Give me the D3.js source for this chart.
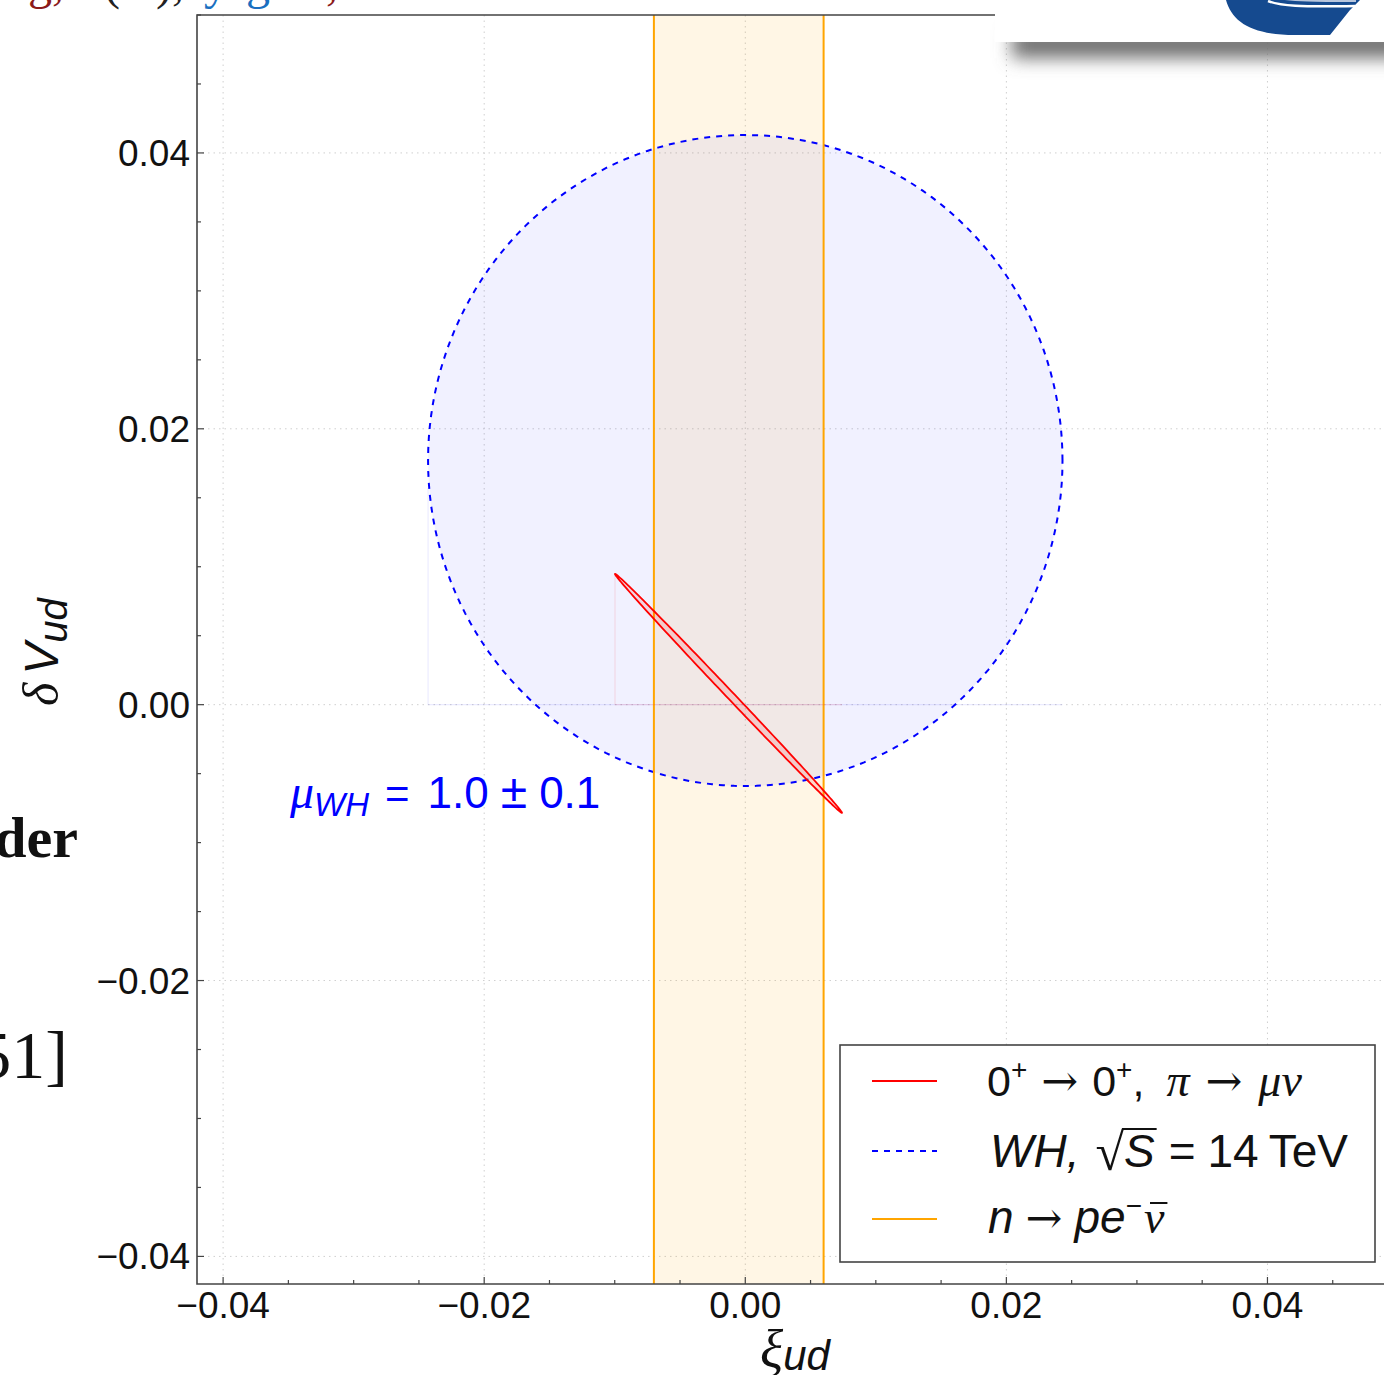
<!DOCTYPE html>
<html>
<head>
<meta charset="utf-8">
<script src="https://cdn.jsdelivr.net/npm/d3@7"></script>
<style>
  html, body { margin: 0; padding: 0; background: #fff; overflow: hidden; }
  svg { display: block; }
</style>
</head>
<body>
<svg id="chart" width="1384" height="1375"></svg>
<script>
// axis setup
const xDomain = [-0.042, 0.05];
const yDomain = [-0.042, 0.05];
const majorTicks = [-0.04, -0.02, 0.00, 0.02, 0.04];
const minorStep = 0.005;

// n -> p e nu band (xi_ud range)
const neutronBand = [-0.007, 0.006];

// WH at 14 TeV contour: center and radii
const whCenter = [0.0, 0.0177];
const whRadius = [0.0243, 0.0236];

// 0+ -> 0+, pi -> mu nu contour: endpoints of long axis, half width
const superEnds = [[-0.00998, 0.00948], [0.00741, -0.00785]];
const superHalfWidth = 0.00027;

const legendItems = ['super', 'wh', 'neutron'];
const colors = { super: '#ff0000', wh: '#0000ff', neutron: '#ffa500' };

const svg = d3.select('#chart');
const margin = { left: 197, top: 15, right: 1398, bottom: 1284 };

const x = d3.scaleLinear().domain(xDomain).range([margin.left, margin.right]);
const y = d3.scaleLinear().domain(yDomain).range([margin.bottom, margin.top]);

const sans = '"Liberation Sans", Arial, Helvetica, sans-serif';
const serif = '"Liberation Serif", "DejaVu Serif", "Times New Roman", serif';
const arrowFont = '"DejaVu Serif", serif';

// gridlines
const grid = svg.append('g');
grid.selectAll('.gx').data(majorTicks).enter().append('line')
    .attr('x1', d => x(d)).attr('x2', d => x(d))
    .attr('y1', margin.top).attr('y2', margin.bottom)
    .attr('stroke', '#cfcfcf').attr('stroke-width', 1).attr('stroke-dasharray', '1.5,4');
grid.selectAll('.gy').data(majorTicks).enter().append('line')
    .attr('x1', margin.left).attr('x2', margin.right)
    .attr('y1', d => y(d)).attr('y2', d => y(d))
    .attr('stroke', '#cfcfcf').attr('stroke-width', 1).attr('stroke-dasharray', '1.5,4');

const plot = svg.append('g');

// orange band
plot.append('rect')
    .attr('x', x(neutronBand[0])).attr('width', x(neutronBand[1]) - x(neutronBand[0]))
    .attr('y', margin.top).attr('height', margin.bottom - margin.top)
    .attr('fill', colors.neutron).attr('fill-opacity', 0.1);

// blue disk
const ellipsePts = d3.range(0, 361, 2).map(a => {
    const t = a * Math.PI / 180;
    return [whCenter[0] + whRadius[0] * Math.cos(t), whCenter[1] + whRadius[1] * Math.sin(t)];
});
const line = d3.line().x(d => x(d[0])).y(d => y(d[1]));

// faint filling artifacts
plot.append('path')
    .attr('d', `M${x(whCenter[0] - whRadius[0])},${y(whCenter[1] - 0.002)}V${y(0)}H${x(whCenter[0] + whRadius[0])}`)
    .attr('fill', 'none').attr('stroke', colors.wh).attr('stroke-opacity', 0.08).attr('stroke-width', 1.2);

plot.append('path')
    .attr('d', line(ellipsePts) + 'Z')
    .attr('fill', colors.wh).attr('fill-opacity', 0.055)
    .attr('stroke', colors.wh).attr('stroke-width', 2).attr('stroke-dasharray', '6,6');

// band edges
plot.selectAll('.edge').data(neutronBand).enter().append('line')
    .attr('x1', d => x(d)).attr('x2', d => x(d))
    .attr('y1', margin.top).attr('y2', margin.bottom)
    .attr('stroke', colors.neutron).attr('stroke-width', 2);

// red thin ellipse
const c = [(superEnds[0][0] + superEnds[1][0]) / 2, (superEnds[0][1] + superEnds[1][1]) / 2];
const u = [(superEnds[1][0] - superEnds[0][0]) / 2, (superEnds[1][1] - superEnds[0][1]) / 2];
const ulen = Math.hypot(u[0], u[1]);
const v = [-u[1] / ulen * superHalfWidth, u[0] / ulen * superHalfWidth];
const superPts = d3.range(0, 361, 2).map(a => {
    const t = a * Math.PI / 180;
    return [c[0] + u[0] * Math.cos(t) + v[0] * Math.sin(t), c[1] + u[1] * Math.cos(t) + v[1] * Math.sin(t)];
});
plot.append('path')
    .attr('d', `M${x(superEnds[0][0])},${y(superEnds[0][1])}V${y(0)}H${x(superEnds[1][0])}`)
    .attr('fill', 'none').attr('stroke', colors.super).attr('stroke-opacity', 0.1).attr('stroke-width', 1.2);
plot.append('path')
    .attr('d', line(superPts) + 'Z')
    .attr('fill', colors.super).attr('fill-opacity', 0.12)
    .attr('stroke', colors.super).attr('stroke-width', 1.8).attr('stroke-linejoin', 'round');

// frame
svg.append('path')
    .attr('d', `M${margin.right},${margin.top}H${margin.left}V${margin.bottom}H${margin.right}`)
    .attr('fill', 'none').attr('stroke', '#444').attr('stroke-width', 1.6);

// ticks (pointing inward)
const minorTicks = d3.range(-0.04, 0.0501, minorStep).map(d => +d.toFixed(3))
    .filter(d => !majorTicks.some(m => Math.abs(m - d) < 1e-9));
const ticks = svg.append('g').attr('stroke', '#444').attr('stroke-width', 1.2);
[[majorTicks, 7], [minorTicks, 4]].forEach(([vals, len]) => {
    ticks.selectAll(null).data(vals.filter(d => d >= xDomain[0] && d <= xDomain[1])).enter().append('line')
        .attr('x1', d => x(d)).attr('x2', d => x(d))
        .attr('y1', margin.bottom).attr('y2', margin.bottom - len);
    ticks.selectAll(null).data(vals.filter(d => d >= yDomain[0] && d <= yDomain[1])).enter().append('line')
        .attr('y1', d => y(d)).attr('y2', d => y(d))
        .attr('x1', margin.left).attr('x2', margin.left + len);
});

const fmt = d => (d < 0 ? '\u2212' : '') + Math.abs(d).toFixed(2);
svg.append('g').selectAll('text').data(majorTicks).enter().append('text')
    .attr('x', d => x(d)).attr('y', 1318)
    .attr('text-anchor', 'middle').attr('font-family', sans).attr('font-size', 37).attr('fill', '#111')
    .text(fmt);
svg.append('g').selectAll('text').data(majorTicks).enter().append('text')
    .attr('x', 190).attr('y', d => y(d) + 13)
    .attr('text-anchor', 'end').attr('font-family', sans).attr('font-size', 37).attr('fill', '#111')
    .text(fmt);

// lays out mixed-font runs on one baseline
function runs(parent, x0, y0, items, fill) {
    let cx = x0;
    const out = [];
    items.forEach(r => {
        const t = parent.append('text')
            .attr('x', cx + (r.dx || 0)).attr('y', y0 + (r.dy || 0))
            .attr('font-family', r.font || sans).attr('font-size', r.size || 40)
            .attr('font-style', r.italic ? 'italic' : 'normal')
            .attr('fill', fill)
            .style('white-space', 'pre')
            .text(r.t);
        const w = t.node().getComputedTextLength();
        out.push({ x: cx + (r.dx || 0), w: w, y: y0 + (r.dy || 0), size: r.size || 40 });
        cx += w + (r.dx || 0) + (r.gap || 0);
    });
    return out;
}

// axis labels
runs(svg, 760, 1368, [
    { t: '\u03be', font: serif, italic: true, size: 54 },
    { t: 'ud', italic: true, size: 42, dy: 2 }
], '#111');
const yl = svg.append('g').attr('transform', 'translate(58,706) rotate(-90)');
runs(yl, 0, 0, [
    { t: '\u03b4', font: serif, italic: true, size: 50, gap: 8 },
    { t: 'V', italic: true, size: 48 },
    { t: 'ud', italic: true, size: 40, dy: 9 }
], '#111');

// annotation
runs(svg, 290, 808, [
    { t: '\u03bc', font: serif, italic: true, size: 48 },
    { t: 'WH', italic: true, size: 33, dy: 8, gap: 16 },
    { t: '=', size: 42, gap: 18 },
    { t: '1.0', size: 44, gap: 12 },
    { t: '\u00b1', size: 48, gap: 12 },
    { t: '0.1', size: 44 }
], colors.wh);

// legend
const lg = svg.append('g');
lg.append('rect').attr('x', 840).attr('y', 1045).attr('width', 535).attr('height', 217)
    .attr('fill', '#fff').attr('stroke', '#444').attr('stroke-width', 1.6);
const legendY = { super: 1081, wh: 1151, neutron: 1219 };
legendItems.forEach(k => {
    lg.append('line').attr('x1', 872).attr('x2', 937).attr('y1', legendY[k]).attr('y2', legendY[k])
        .attr('stroke', colors[k]).attr('stroke-width', 2)
        .attr('stroke-dasharray', k === 'wh' ? '6,6' : null);
});
runs(lg, 987, 1096, [
    { t: '0', size: 43 },
    { t: '+', size: 28, dy: -17, gap: 14 },
    { t: '\u2192', font: arrowFont, size: 44, gap: 14 },
    { t: '0', size: 43 },
    { t: '+', size: 28, dy: -17 },
    { t: ',', size: 43, gap: 22 },
    { t: '\u03c0', font: serif, italic: true, size: 46, gap: 16 },
    { t: '\u2192', font: arrowFont, size: 44, gap: 16 },
    { t: '\u03bc\u03bd', font: serif, italic: true, size: 46 }
], '#111');
const l2 = runs(lg, 990, 1167, [
    { t: 'WH,', italic: true, size: 46, gap: 16 },
    { t: '\u221a', font: serif, size: 52, dy: 3 },
    { t: 'S', italic: true, size: 46, gap: 14 },
    { t: '=', size: 46, gap: 12 },
    { t: '14', size: 46, gap: 10 },
    { t: 'TeV', size: 46 }
], '#111');
lg.append('line').attr('x1', l2[2].x - 2).attr('x2', l2[2].x + l2[2].w + 2)
    .attr('y1', 1129).attr('y2', 1129).attr('stroke', '#111').attr('stroke-width', 2);
const l3 = runs(lg, 988, 1233, [
    { t: 'n', italic: true, size: 46, gap: 12 },
    { t: '\u2192', font: arrowFont, size: 44, gap: 12 },
    { t: 'pe', italic: true, size: 46 },
    { t: '\u2212', size: 28, dy: -18, gap: 2 },
    { t: '\u03bd', font: serif, italic: true, size: 46 }
], '#111');
lg.append('line').attr('x1', l3[4].x + 6).attr('x2', l3[4].x + l3[4].w + 3)
    .attr('y1', 1203).attr('y2', 1203).attr('stroke', '#111').attr('stroke-width', 2);

// slide fragments around the figure
const frag = svg.append('g').attr('font-family', serif).attr('font-size', 48);
frag.append('text').attr('x', 28).attr('y', -1).attr('fill', '#8b1a1a').text('g,');
frag.append('text').attr('x', 104).attr('y', -1).attr('fill', '#222').text('(');
frag.append('text').attr('x', 156).attr('y', -1).attr('fill', '#222').text('),');
frag.append('text').attr('x', 204).attr('y', -1).attr('fill', '#1a6fc0').text('y');
frag.append('text').attr('x', 246).attr('y', -1).attr('fill', '#1a6fc0').text('g');
frag.append('text').attr('x', 326).attr('y', -1).attr('fill', '#8b1a1a').text(',');
svg.append('text').attr('x', 78).attr('y', 857).attr('text-anchor', 'end')
    .attr('font-family', serif).attr('font-weight', 'bold').attr('font-size', 58).attr('fill', '#111').text('der');
svg.append('text').attr('x', 68).attr('y', 1078).attr('text-anchor', 'end')
    .attr('font-family', serif).attr('font-size', 68).attr('fill', '#111').text('51]');

// logo box with shadow, top right
const defs = svg.append('defs');
const f = defs.append('filter').attr('id', 'blur').attr('x', '-20%').attr('y', '-100%').attr('width', '140%').attr('height', '300%');
f.append('feGaussianBlur').attr('stdDeviation', 9);
svg.append('rect').attr('x', 1012).attr('y', 30).attr('width', 400).attr('height', 28)
    .attr('fill', '#6e6e6e').attr('filter', 'url(#blur)');
svg.append('rect').attr('x', 995).attr('y', -5).attr('width', 400).attr('height', 47).attr('fill', '#fff');
const logo = svg.append('g');
logo.append('path')
    .attr('d', 'M1226,0 C1232,22 1252,35 1295,35 L1330,35 L1350,10 L1360,0 Z')
    .attr('fill', '#154a8f');
logo.append('path')
    .attr('d', 'M1268,1 C1280,6 1300,7 1355,6')
    .attr('fill', 'none').attr('stroke', '#fff').attr('stroke-width', 2.5);
logo.append('path')
    .attr('d', 'M1272,-3 C1290,1 1320,1 1356,1')
    .attr('fill', 'none').attr('stroke', '#b8c6dd').attr('stroke-width', 2);
</script>
</body>
</html>
